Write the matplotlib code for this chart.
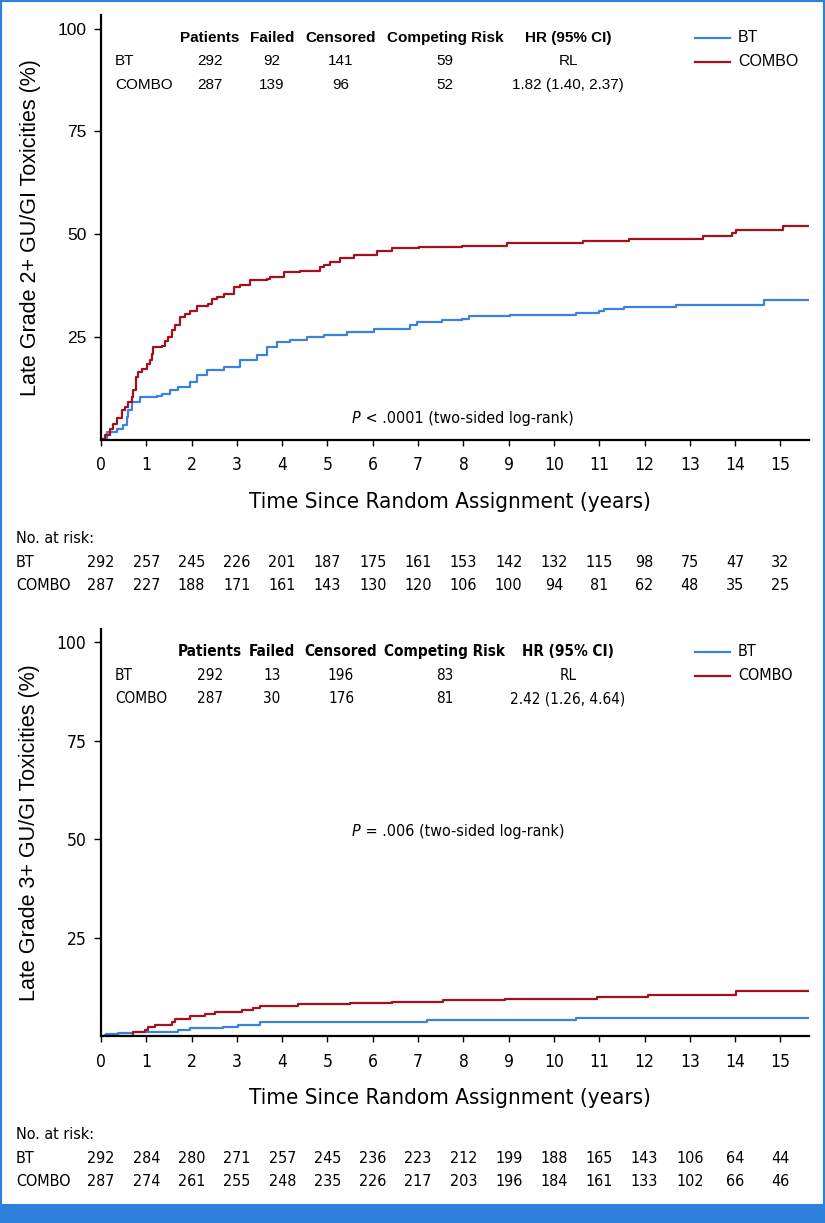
import matplotlib
matplotlib.use("Agg")
import matplotlib.pyplot as plt
from matplotlib import font_manager, transforms
from matplotlib.patches import Rectangle

# ---- data ----
years = list(range(16))

# panel A: late grade 2+ GU/GI
a_bt_t = [0, 0.015, 0.125, 0.347, 0.494, 0.567, 0.604, 0.678, 0.862, 1.23, 1.34, 1.526, 1.71, 1.968, 2.115,
          2.336, 2.705, 3.073, 3.44, 3.66, 3.88, 4.18, 4.55, 4.92, 5.43, 6.02, 6.83, 6.98, 7.53, 7.97, 8.12,
          9.04, 10.48, 10.99, 11.1, 11.55, 12.69, 14.64, 15.64]
a_bt_v = [0, 0.4, 2.0, 2.8, 3.6, 5.6, 7.3, 9.3, 10.5, 10.7, 11.3, 12.1, 12.9, 14.1, 15.8,
          17.0, 17.8, 19.4, 20.6, 22.6, 23.9, 24.4, 25.1, 25.5, 26.3, 27.1, 27.9, 28.7, 29.1, 29.5, 30.1,
          30.5, 30.9, 31.4, 31.9, 32.4, 32.8, 34.0, 34.0]
a_combo_t = [0, 0.015, 0.088, 0.199, 0.273, 0.347, 0.457, 0.531, 0.604, 0.678, 0.715, 0.766, 0.825, 0.899,
             1.01, 1.083, 1.12, 1.157, 1.341, 1.415, 1.489, 1.563, 1.636, 1.747, 1.857, 1.968, 2.115, 2.373,
             2.447, 2.557, 2.705, 2.926, 3.073, 3.294, 3.663, 3.737, 4.031, 4.4, 4.842, 4.916, 5.063, 5.284,
             5.579, 6.096, 6.428, 7.02, 7.97, 8.97, 10.63, 11.66, 13.28, 13.94, 14.02, 15.05, 15.64]
a_combo_v = [0, 0.4, 1.3, 2.8, 4.0, 5.3, 7.3, 8.1, 9.3, 10.5, 12.1, 15.3, 16.5, 17.4,
             18.6, 19.4, 21.0, 22.6, 22.9, 24.2, 25.0, 26.7, 27.9, 29.9, 30.7, 31.5, 32.7, 33.1,
             34.3, 34.9, 35.5, 37.2, 37.8, 38.9, 39.2, 39.6, 40.8, 41.2, 42.0, 42.6, 43.4, 44.2,
             45.1, 45.9, 46.6, 46.9, 47.3, 47.8, 48.3, 48.8, 49.6, 50.4, 51.1, 52.1, 52.1]
a_risk_bt = [292, 257, 245, 226, 201, 187, 175, 161, 153, 142, 132, 115, 98, 75, 47, 32]
a_risk_combo = [287, 227, 188, 171, 161, 143, 130, 120, 106, 100, 94, 81, 62, 48, 35, 25]
a_table = [["BT", "292", "92", "141", "59", "RL"],
           ["COMBO", "287", "139", "96", "52", "1.82 (1.40, 2.37)"]]

# panel B: late grade 3+ GU/GI
b_bt_t = [0, 0.09, 0.12, 0.38, 0.71, 1.71, 1.96, 2.7, 3.03, 3.51, 7.19, 10.49, 15.63]
b_bt_v = [0, 0.25, 0.5, 0.9, 1.1, 1.5, 2.2, 2.5, 3.0, 3.6, 4.1, 4.6, 4.6]
b_combo_t = [0, 0.46, 0.71, 0.97, 1.04, 1.19, 1.56, 1.63, 1.96, 2.3, 2.52, 3.11, 3.36, 3.51, 4.36, 5.5, 6.42,
             7.56, 8.92, 10.95, 12.08, 14.01, 15.63]
b_combo_v = [0, 0.1, 1.1, 1.7, 2.5, 3.0, 3.6, 4.5, 5.1, 5.8, 6.2, 6.6, 7.1, 7.7, 8.2, 8.5, 8.8, 9.3, 9.6, 10.0,
             10.6, 11.6, 11.6]
b_risk_bt = [292, 284, 280, 271, 257, 245, 236, 223, 212, 199, 188, 165, 143, 106, 64, 44]
b_risk_combo = [287, 274, 261, 255, 248, 235, 226, 217, 203, 196, 184, 161, 133, 102, 66, 46]
b_table = [["BT", "292", "13", "196", "83", "RL"],
           ["COMBO", "287", "30", "176", "81", "2.42 (1.26, 4.64)"]]

headers = ["Patients", "Failed", "Censored", "Competing Risk", "HR (95% CI)"]

BLUE = "#3a82de"
RED = "#a3111f"
FRAME = "#2f7fdc"

# fonts: regular helvetica-like plus a narrow one if there is one
avail = {f.name for f in font_manager.fontManager.ttflist}
REG = dict(family="Liberation Sans")
NARROW = dict(family="Liberation Sans")
for n in ["Liberation Sans Narrow", "DejaVu Sans Condensed"]:
    if n in avail:
        NARROW = dict(family=n)
        break
else:
    if any(f.name == "DejaVu Sans" and f.stretch == "condensed" for f in font_manager.fontManager.ttflist):
        NARROW = dict(family="DejaVu Sans", stretch="condensed")

W, H = 825, 1223
fig = plt.figure(figsize=(W / 100, H / 100), dpi=100)
fig.patch.set_facecolor("white")


def fx(x):
    return x / W


def fy(y):
    # pixel row -> figure fraction (text sits ~1.5px low with center_baseline)
    return 1 - y / H


def ty(y):
    return fy(y - 1.8)


def txt(x, y, s, **kw):
    fig.text(fx(x), ty(y), s, va="center_baseline", **kw)


def panel(top, bottom, bt_t, bt_v, co_t, co_v, ylabel, tickfont, tablefont, table, ptxt, p_y,
          risk_bt, risk_co, tick_y, xlab_y, risk_y):
    ax = fig.add_axes([fx(101), fy(bottom), fx(809) - fx(101), fy(top) - fy(bottom)])
    ax.step(bt_t, bt_v, where="post", color=BLUE, lw=1.6, label="BT")
    ax.step(co_t, co_v, where="post", color=RED, lw=1.6, label="COMBO")
    ax.set_xlim(0, 15.63)
    ax.set_ylim(0, 103.3)
    ax.set_yticks([25, 50, 75, 100])
    ax.set_xticks(years)
    ax.set_xticklabels([])
    ax.set_yticklabels([str(v) for v in [25, 50, 75, 100]], fontsize=12.5, **tickfont)
    for s in ["top", "right"]:
        ax.spines[s].set_visible(False)
    for s in ["left", "bottom"]:
        ax.spines[s].set_linewidth(1.6)
    ax.tick_params(axis="y", direction="out", length=5, width=1, pad=5.5)
    ax.tick_params(axis="x", direction="out", length=4.5, width=1)
    ax.set_ylabel(ylabel, fontsize=15.5, labelpad=12, **REG)
    ax.set_facecolor("white")

    # x tick labels, x label and risk table placed on the axis' x scale
    tr = transforms.blended_transform_factory(ax.transData, fig.transFigure)
    for yr in years:
        ax.text(yr, ty(tick_y), str(yr), transform=tr, ha="center", va="center_baseline", fontsize=12.5,
                **NARROW)
    ax.text(7.7, ty(xlab_y), "Time Since Random Assignment (years)", transform=tr, ha="center",
            va="center_baseline", fontsize=16, **NARROW)
    txt(16, risk_y, "No. at risk:", fontsize=11.5, **NARROW)
    txt(16, risk_y + 23.5, "BT", fontsize=11.5, **NARROW)
    txt(16, risk_y + 47, "COMBO", fontsize=11.5, **NARROW)
    for yr, a, b in zip(years, risk_bt, risk_co):
        ax.text(yr, ty(risk_y + 23.5), str(a), transform=tr, ha="center", va="center_baseline",
                fontsize=11.5, **NARROW)
        ax.text(yr, ty(risk_y + 47), str(b), transform=tr, ha="center", va="center_baseline",
                fontsize=11.5, **NARROW)

    # summary table
    hx = [210, 272, 341, 445, 568]
    hy = top + 23
    for x, h in zip(hx, headers):
        txt(x, hy, h, ha="center", fontsize=11, fontweight="bold", **tablefont)
    for r, row in enumerate(table):
        yy = hy + 23.5 * (r + 1)
        txt(115, yy, row[0], ha="left", fontsize=11, **tablefont)
        for x, v in zip(hx, row[1:]):
            txt(x, yy, v, ha="center", fontsize=11, **tablefont)

    # legend
    for r, (lab, c) in enumerate([("BT", BLUE), ("COMBO", RED)]):
        yy = hy + 23.5 * r
        fig.add_artist(plt.Line2D([fx(695), fx(730)], [fy(yy), fy(yy)], color=c, lw=1.6,
                                  transform=fig.transFigure))
        txt(738, yy, lab, ha="left", fontsize=11.5, **tablefont)

    # p value
    t1 = fig.text(fx(352), ty(p_y), "P", va="center_baseline", ha="left", fontsize=11.5, style="italic",
                  **NARROW)
    ax.annotate(ptxt, xy=(1, 0.5), xycoords=t1, va="center", ha="left", fontsize=11.5, **NARROW)
    return ax


panel(15, 440.2, a_bt_t, a_bt_v, a_combo_t, a_combo_v, "Late Grade 2+ GU/GI Toxicities (%)",
      REG, REG, a_table, " < .0001 (two-sided log-rank)", 419, a_risk_bt, a_risk_combo, 465, 502, 539)
panel(629, 1036.4, b_bt_t, b_bt_v, b_combo_t, b_combo_v, "Late Grade 3+ GU/GI Toxicities (%)",
      NARROW, NARROW, b_table, " = .006 (two-sided log-rank)", 832, b_risk_bt, b_risk_combo, 1062, 1098, 1135)

# frame and bottom band
fig.add_artist(Rectangle((0, 0), 1, 1, transform=fig.transFigure, fill=False, ec=FRAME, lw=3))
fig.add_artist(Rectangle((0, 0), 1, 19 / H, transform=fig.transFigure, fc=FRAME, ec="none"))

fig.savefig("out.png", dpi=100)
